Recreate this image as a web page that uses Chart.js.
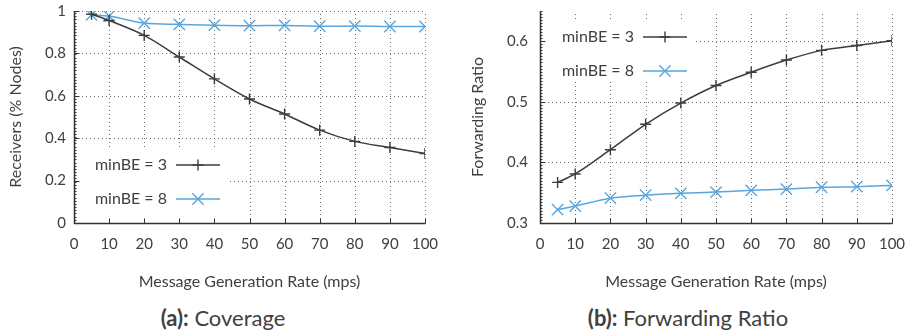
<!DOCTYPE html>
<html>
<head>
<meta charset="utf-8">
<script src="https://cdn.jsdelivr.net/npm/chart.js@4/dist/chart.umd.min.js"></script>
<style>
  body { margin: 0; background: #fff; width: 907px; height: 335px; overflow: hidden; position: relative;
         font-family: Lato, "Noto Sans", sans-serif; color: #404040; }
  canvas { position: absolute; top: 0; }
  #coverage { left: 0; }
  #forwarding { left: 453px; }
  .cap { position: absolute; top: 304px; font-size: 22px; white-space: nowrap; transform: translateX(-50%); }
</style>
</head>
<body>
<canvas id="coverage" width="453" height="300"></canvas>
<canvas id="forwarding" width="454" height="300"></canvas>
<div class="cap" style="left:223px"><b>(a):</b> Coverage</div>
<div class="cap" style="left:688px"><b>(b):</b> Forwarding Ratio</div>
<script>
// Message generation rates (mps)
const rates = [5, 10, 20, 30, 40, 50, 60, 70, 80, 90, 100];
const seriesNames = ['minBE = 3', 'minBE = 8'];

// (a) Coverage: fraction of nodes receiving a message
const coverageBE3 = [0.985, 0.955, 0.885, 0.783, 0.680, 0.585, 0.514, 0.438, 0.385, 0.356, 0.328];
const coverageBE8 = [0.982, 0.976, 0.943, 0.937, 0.933, 0.931, 0.932, 0.928, 0.929, 0.927, 0.927];

// (b) Forwarding ratio
const forwardBE3 = [0.367, 0.381, 0.421, 0.463, 0.498, 0.527, 0.549, 0.569, 0.585, 0.593, 0.601];
const forwardBE8 = [0.322, 0.328, 0.341, 0.346, 0.349, 0.351, 0.354, 0.356, 0.359, 0.360, 0.362];

// Tick labels
const xTicks = [0, 10, 20, 30, 40, 50, 60, 70, 80, 90, 100];
const coverageTicks = [0, 0.2, 0.4, 0.6, 0.8, 1];
const forwardTicks = [0.3, 0.4, 0.5, 0.6];

const TEXT = '#404040';
const AXIS = '#333333';
const GRID = '#6a6a6a';
const DARK = '#3c3c3c';
const BLUE = '#58a6dd';
const FONT = 'Lato, "Noto Sans", sans-serif';

// Grid, axes with inward ticks, and an opaque key box drawn under the data lines
const frame = {
  id: 'frame',
  beforeDatasetsDraw(chart, args, opts) {
    const { ctx, chartArea: a, scales: { x, y } } = chart;
    ctx.save();
    // dotted grid
    ctx.strokeStyle = GRID;
    ctx.lineWidth = 1;
    ctx.setLineDash([1, 3]);
    x.ticks.forEach(t => {
      if (t.value === x.min) return;
      const px = Math.round(x.getPixelForValue(t.value)) + 0.5;
      ctx.beginPath(); ctx.moveTo(px, a.bottom); ctx.lineTo(px, a.top); ctx.stroke();
    });
    y.ticks.forEach(t => {
      if (t.value === y.min) return;
      const py = Math.round(y.getPixelForValue(t.value)) + 0.5;
      ctx.beginPath(); ctx.moveTo(a.left, py); ctx.lineTo(a.right, py); ctx.stroke();
    });
    ctx.setLineDash([]);

    // key box
    const k = opts.key;
    ctx.fillStyle = '#fff';
    ctx.fillRect(a.left + 1, k.top, k.width, k.bottom - k.top);
    ctx.font = '16px ' + FONT;
    ctx.textAlign = 'right';
    ctx.textBaseline = 'middle';
    chart.data.datasets.forEach((ds, i) => {
      const ry = k.rows[i];
      ctx.fillStyle = TEXT;
      ctx.fillText(ds.label, a.left + k.textRight, ry);
      ctx.strokeStyle = ds.borderColor;
      ctx.lineWidth = 1.5;
      ctx.beginPath(); ctx.moveTo(a.left + k.lineFrom, ry); ctx.lineTo(a.left + k.lineTo, ry); ctx.stroke();
      const cx = a.left + (k.lineFrom + k.lineTo) / 2;
      const r = ds.pointRadius;
      ctx.lineWidth = 1.4;
      ctx.beginPath();
      if (ds.pointStyle === 'cross') {
        ctx.moveTo(cx - r, ry); ctx.lineTo(cx + r, ry);
        ctx.moveTo(cx, ry - r); ctx.lineTo(cx, ry + r);
      } else {
        const d = r * Math.SQRT1_2;
        ctx.moveTo(cx - d, ry - d); ctx.lineTo(cx + d, ry + d);
        ctx.moveTo(cx - d, ry + d); ctx.lineTo(cx + d, ry - d);
      }
      ctx.stroke();
    });

    // axes
    ctx.strokeStyle = AXIS;
    ctx.lineWidth = 1.5;
    const L = Math.round(a.left) + 0.5, B = Math.round(a.bottom) + 0.5;
    ctx.beginPath(); ctx.moveTo(L, a.top); ctx.lineTo(L, B); ctx.lineTo(a.right + 0.5, B); ctx.stroke();
    ctx.lineWidth = 1;
    // fine ruler marks on the value axis
    for (let v = y.min; v <= y.max + 1e-9; v += opts.minorStep) {
      const py = Math.round(y.getPixelForValue(v)) + 0.5;
      ctx.beginPath(); ctx.moveTo(L, py); ctx.lineTo(L + 2, py); ctx.stroke();
    }
    y.ticks.forEach(t => {
      const py = Math.round(y.getPixelForValue(t.value)) + 0.5;
      ctx.beginPath(); ctx.moveTo(L, py); ctx.lineTo(L + 5, py); ctx.stroke();
    });
    x.ticks.forEach(t => {
      const px = Math.round(x.getPixelForValue(t.value)) + 0.5;
      ctx.beginPath(); ctx.moveTo(px, B); ctx.lineTo(px, B - 5); ctx.stroke();
    });
    ctx.restore();
  }
};

function series(label, values, color, style, radius) {
  return {
    label,
    data: rates.map((r, i) => ({ x: r, y: values[i] })),
    showLine: true,
    borderColor: color,
    backgroundColor: color,
    borderWidth: 1.5,
    pointStyle: style,
    pointRadius: radius,
    pointHoverRadius: radius,
    pointBorderWidth: 1.4,
    cubicInterpolationMode: 'monotone'
  };
}

function makeChart(id, cfg) {
  return new Chart(document.getElementById(id), {
    type: 'scatter',
    data: {
      datasets: [
        series(seriesNames[0], cfg.a, DARK, 'cross', 5.5),
        series(seriesNames[1], cfg.b, BLUE, 'crossRot', 8)
      ]
    },
    options: {
      responsive: false,
      animation: false,
      events: [],
      layout: { padding: { top: 11, right: cfg.padRight, bottom: 9, left: 0 } },
      plugins: {
        legend: { display: false },
        tooltip: { enabled: false },
        frame: { key: cfg.key, minorStep: cfg.minorStep }
      },
      scales: {
        x: {
          type: 'linear', min: 0, max: 100,
          afterBuildTicks: s => { s.ticks = xTicks.map(v => ({ value: v })); },
          afterFit: s => { s.height = 68; s.paddingLeft = 0; s.paddingRight = 0; },
          grid: { display: false, drawTicks: false },
          border: { display: false },
          ticks: { color: TEXT, font: { family: FONT, size: 15 }, padding: 12, maxRotation: 0 },
          title: { display: true, text: 'Message Generation Rate (mps)', color: TEXT,
                   font: { family: FONT, size: 16 }, padding: { top: 0, bottom: 0 } }
        },
        y: {
          min: cfg.yMin, max: cfg.yMax,
          afterBuildTicks: s => { s.ticks = cfg.yTicks.map(v => ({ value: v })); },
          afterFit: s => { s.width = cfg.yWidth; s.paddingTop = 0; s.paddingBottom = 0; },
          grid: { display: false, drawTicks: false },
          border: { display: false },
          ticks: { color: TEXT, font: { family: FONT, size: 15 }, padding: cfg.tickPad,
                   callback: v => String(Number(v.toFixed(2))) },
          title: { display: true, text: cfg.yTitle, color: TEXT,
                   font: { family: FONT, size: 16 }, padding: { top: cfg.titlePad, bottom: 0 } }
        }
      }
    },
    plugins: [frame]
  });
}

makeChart('coverage', {
  a: coverageBE3, b: coverageBE8,
  yMin: 0, yMax: 1, yTicks: coverageTicks, minorStep: 0.015,
  yWidth: 74, padRight: 28, tickPad: 8, titlePad: 6,
  yTitle: 'Receivers (% Nodes)',
  key: { top: 148, bottom: 222, width: 152, textRight: 93, lineFrom: 102, lineTo: 146, rows: [165, 199] }
});

makeChart('forwarding', {
  a: forwardBE3, b: forwardBE8,
  yMin: 0.3, yMax: 0.65, yTicks: forwardTicks, minorStep: 0.005,
  yWidth: 87, padRight: 15, tickPad: 12, titlePad: 15,
  yTitle: 'Forwarding Ratio',
  key: { top: 22, bottom: 82, width: 152, textRight: 94, lineFrom: 103, lineTo: 147, rows: [37, 71] }
});
</script>
</body>
</html>
